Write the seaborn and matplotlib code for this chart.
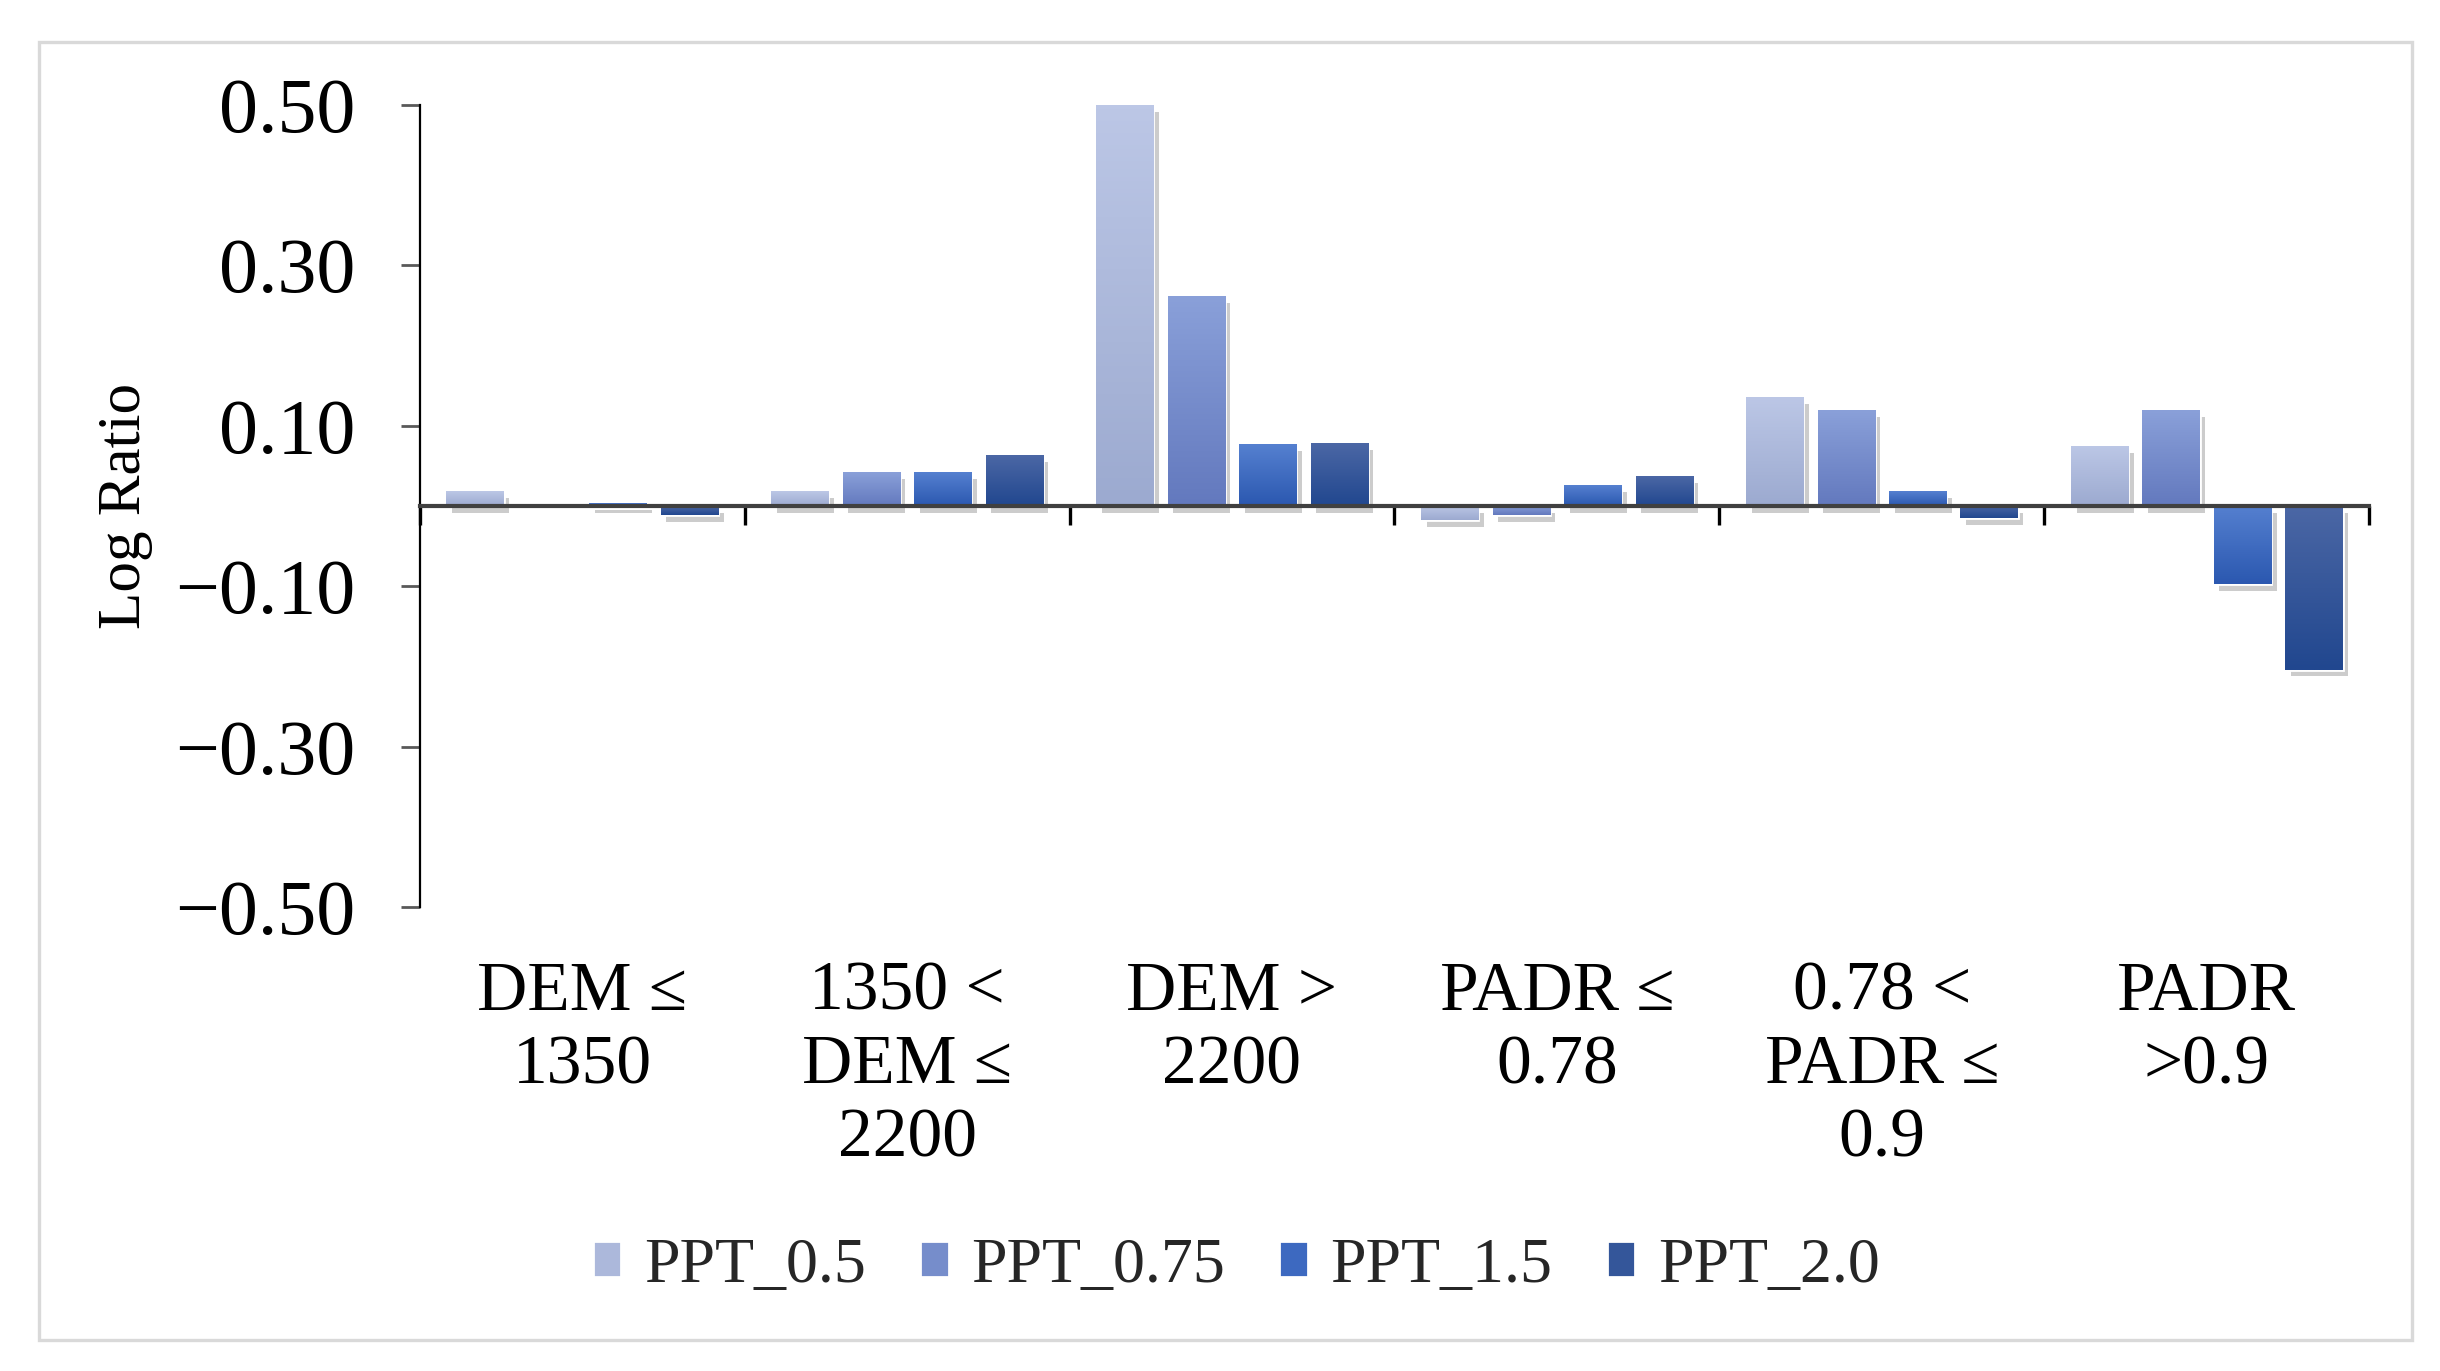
import matplotlib.pyplot as plt
import matplotlib.patheffects as pe
from matplotlib.patches import Rectangle
from matplotlib.colors import LinearSegmentedColormap
import seaborn as sns
import pandas as pd
import numpy as np

categories = ['DEM ≤\n1350', '1350 <\nDEM ≤\n2200', 'DEM >\n2200',
              'PADR ≤\n0.78', '0.78 <\nPADR ≤\n0.9', 'PADR\n>0.9']
series = ['PPT_0.5', 'PPT_0.75', 'PPT_1.5', 'PPT_2.0']
ppt_05 = [0.018, 0.018, 0.499, -0.018, 0.136, 0.075]
ppt_075 = [0.0, 0.042, 0.262, -0.012, 0.119, 0.119]
ppt_15 = [0.004, 0.042, 0.077, 0.026, 0.018, -0.098]
ppt_20 = [-0.011, 0.063, 0.078, 0.037, -0.015, -0.204]
yticks = [0.5, 0.3, 0.1, -0.1, -0.3, -0.5]
ytick_labels = ['0.50', '0.30', '0.10', '−0.10', '−0.30', '−0.50']

# mid colour per series and (top, bottom) gradient
colors = ['#acb8db', '#768dcb', '#3d69c0', '#34569a']
grads = [('#bcc7e6', '#9caad0'), ('#8aa0d9', '#6379be'),
         ('#5580d0', '#2b58b0'), ('#4b67a5', '#21478f')]

df = pd.DataFrame({
    'cat': categories * 4,
    'ppt': [s for s in series for _ in categories],
    'val': ppt_05 + ppt_075 + ppt_15 + ppt_20,
})

sns.set_theme(style='white')
plt.rcParams['font.family'] = ['Liberation Serif', 'DejaVu Serif']

fig = plt.figure(figsize=(12.2, 6.855), dpi=200)
ax = fig.add_axes([0.172, 0.3384, 0.799, 0.5853])

sns.barplot(data=df, x='cat', y='val', hue='ppt', order=categories,
            hue_order=series, palette=colors, width=0.88, gap=0.2,
            saturation=1, ax=ax)

# gradient fill + drop shadow on each bar
for bars, (c_top, c_bot) in zip(ax.containers, grads):
    cmap = LinearSegmentedColormap.from_list('g', [c_bot, c_top])
    for bar in bars:
        h = bar.get_height()
        if h == 0:
            continue
        x0, y0, w = bar.get_x(), bar.get_y(), bar.get_width()
        lo, hi = min(y0, y0 + h), max(y0, y0 + h)
        bar.set_path_effects([pe.SimplePatchShadow(offset=(2, -2.5), shadow_rgbFace='k', alpha=0.22),
                              pe.Normal()])
        img = ax.imshow(np.linspace(0, 1, 100).reshape(-1, 1), cmap=cmap, origin='lower',
                        extent=[x0, x0 + w, lo, hi], aspect='auto', zorder=bar.get_zorder() + 0.1)
        img.set_clip_path(bar)

ax.set_xlim(-0.5, 5.5)
ax.set_ylim(-0.5, 0.5)
ax.set_yticks(yticks)
ax.set_yticklabels(ytick_labels)
ax.set_xticks(range(len(categories)))
ax.set_xticklabels(categories, linespacing=1.38)
ax.set_xticks(np.arange(-0.5, len(categories), 1), minor=True)

for s in ['top', 'right']:
    ax.spines[s].set_visible(False)
ax.spines['bottom'].set_position(('data', 0))
ax.spines['bottom'].set_color('#404040')
ax.spines['bottom'].set_linewidth(1.5)
ax.spines['left'].set_color('black')
ax.spines['left'].set_linewidth(0.8)

ax.tick_params(axis='x', which='major', length=0, pad=164, labelsize=25, colors='black')
ax.tick_params(axis='x', which='minor', bottom=True, length=7, width=1.2,
               direction='out', color='black')
ax.tick_params(axis='y', length=7, width=1, color='#595959', pad=16, labelsize=28,
               labelcolor='black', left=True)

ax.set_xlabel('')
ax.set_ylabel('Log Ratio', fontsize=22, color='black')
ax.yaxis.set_label_coords(-0.137, 0.5)

sns.move_legend(ax, 'center', bbox_to_anchor=(0.4187, -0.448), ncol=4, frameon=False,
                title=None, fontsize=23, handlelength=0.45, handleheight=0.5,
                handletextpad=0.35, columnspacing=0.85)

fig.add_artist(Rectangle((0.016, 0.0226), 0.9725, 0.9468, transform=fig.transFigure,
                         fill=False, edgecolor='#d9d9d9', lw=1.2))

fig.savefig('out.png', dpi=200)
